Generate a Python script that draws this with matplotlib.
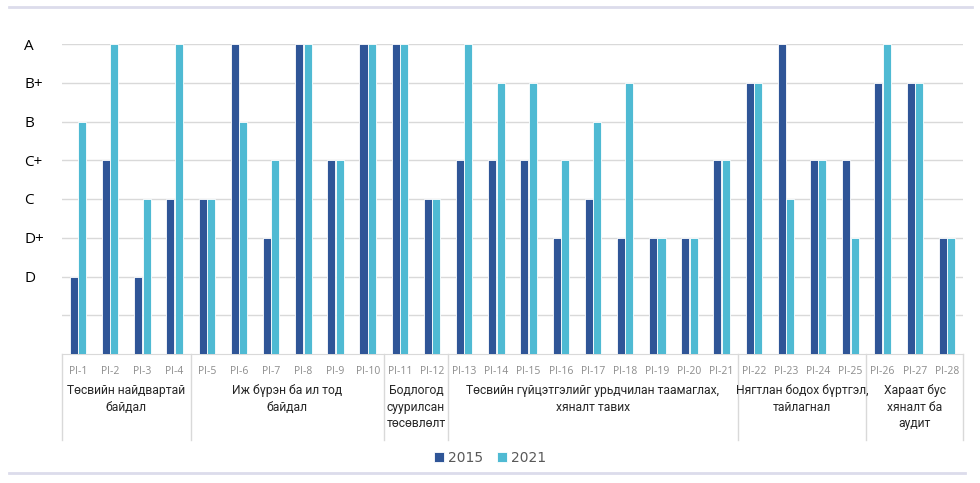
import numpy as np
import matplotlib
matplotlib.use("Agg")
from matplotlib import pyplot as plt
from matplotlib.lines import Line2D

## score scale: 1 is an unlabelled bottom grid step, D=2 ... A=8
grade_labels = ['', 'D', 'D+', 'C', 'C+', 'B', 'B+', 'A']
pi_labels = ['PI-%d' % i for i in range(1, 29)]

score_2015 = [2, 5, 2, 4, 4, 8, 3, 8, 5, 8, 8, 4, 5, 5,
              5, 3, 4, 3, 3, 3, 5, 7, 8, 5, 5, 7, 7, 3]
score_2021 = [6, 8, 4, 8, 4, 6, 5, 8, 5, 8, 8, 4, 8, 7,
              7, 5, 6, 7, 3, 3, 5, 7, 4, 5, 3, 8, 7, 3]

## pillar groups: (first PI index, last PI index, label)
groups = [(0, 3, 'Төсвийн найдвартай\nбайдал'),
          (4, 9, 'Иж бүрэн ба ил тод\nбайдал'),
          (10, 11, 'Бодлогод\nсуурилсан\nтөсөвлөлт'),
          (12, 20, 'Төсвийн гүйцэтгэлийг урьдчилан таамаглах,\nхяналт тавих'),
          (21, 24, 'Нягтлан бодох бүртгэл,\nтайлагнал'),
          (25, 27, 'Хараат бус\nхяналт ба\nаудит')]

c2015 = '#2F5597'
c2021 = '#4FBAD3'
grid_c = '#D9D9D9'

fig = plt.figure(figsize=(9.8, 4.83), dpi=100)
ax = fig.add_axes([62/980., 1-354/483., 901/980., 310/483.])

x = np.arange(len(pi_labels))
b1 = ax.bar(x-0.13, score_2015, width=0.25, color=c2015, edgecolor='white', linewidth=0.6, zorder=3)
b2 = ax.bar(x+0.13, score_2021, width=0.25, color=c2021, edgecolor='white', linewidth=0.6, zorder=3)

ax.set_xlim(-0.5, len(pi_labels)-0.5)
ax.set_ylim(0, 8)
ax.set_yticks(range(1, 9))
ax.set_yticklabels(grade_labels, fontsize=11, family=['Open Sans', 'DejaVu Sans'], color='#000000', ha='left')
ax.tick_params(axis='y', length=0, pad=27)
ax.set_xticks(x)
ax.set_xticklabels(pi_labels, fontsize=7.5, family=['Open Sans', 'DejaVu Sans'], color='#8C8C8C')
ax.tick_params(axis='x', length=0, pad=9)
ax.grid(axis='y', color=grid_c, linewidth=1.0, zorder=0)
for s in ['top', 'right', 'left']:
    ax.spines[s].set_visible(False)
ax.spines['bottom'].set_color(grid_c)

## group separators and pillar names under the PI labels
tr = ax.get_xaxis_transform()
seps = [g[0]-0.5 for g in groups] + [groups[-1][1]+0.5]
for s in seps:
    ax.add_line(Line2D([s, s], [0, -0.277], transform=tr, color=grid_c, linewidth=1.0, clip_on=False))
for g0, g1, name in groups:
    ax.text((g0+g1)/2., -0.097, name, transform=tr, ha='center', va='top', fontsize=8.7,
            family=['DejaVu Sans Condensed', 'Roboto', 'DejaVu Sans'], fontstretch='condensed',
            color='#262626', linespacing=1.35)

## legend
fig.legend([b1, b2], ['2015', '2021'], loc='center', bbox_to_anchor=(0.5, 1-458/483.), ncol=2,
           frameon=False, fontsize=10, handlelength=0.7, handleheight=0.7, handletextpad=0.3,
           columnspacing=1.0, labelcolor='#595959')

## chart frame lines top and bottom
fig.add_artist(Line2D([9/980., 972/980.], [1-7/483., 1-7/483.], color='#DCDCEB', linewidth=2))
fig.add_artist(Line2D([9/980., 965/980.], [1-473/483., 1-473/483.], color='#DCDCEB', linewidth=2))

fig.savefig('out.png', dpi=100)
